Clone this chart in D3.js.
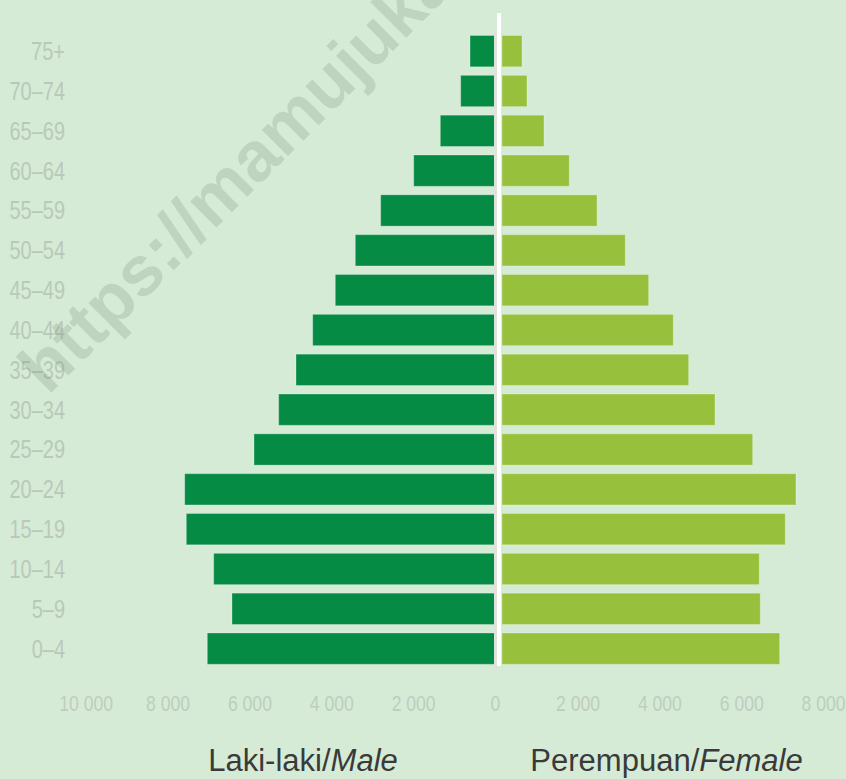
<!DOCTYPE html>
<html>
<head>
<meta charset="utf-8">
<script src="https://cdn.jsdelivr.net/npm/d3@7"></script>
<style>
    body { margin: 0; background: #d5ebd6; }
    svg { display: block; }
</style>
</head>
<body>
<svg id="chart" width="846" height="779"></svg>
<script>
// age groups, top to bottom
const ages = ["75+", "70–74", "65–69", "60–64", "55–59", "50–54", "45–49", "40–44",
    "35–39", "30–34", "25–29", "20–24", "15–19", "10–14", "5–9", "0–4"];

const male = [610, 838, 1336, 1986, 2793, 3413, 3902, 4454,
    4862, 5285, 5888, 7581, 7542, 6873, 6426, 7029];

const female = [489, 611, 1026, 1644, 2321, 3012, 3584, 4185,
    4561, 5204, 6125, 7183, 6922, 6286, 6311, 6785];

const maleTicks = [10000, 8000, 6000, 4000, 2000, 0];
const femaleTicks = [2000, 4000, 6000, 8000];

const sans = "'Liberation Sans', Arial, sans-serif";
const squeeze = 0.8; // condensed look for the small labels

let svg = d3.select("#chart");

svg.append("rect")
    .attr("width", 846)
    .attr("height", 779)
    .attr("fill", "#d5ebd6");

// scales
let xM = d3.scaleLinear().domain([0, 10000]).range([495, 495 - 409.3]);
let xF = d3.scaleLinear().domain([0, 8000]).range([495.7, 495.7 + 327.4]);
let gap = 6.3; // female bars sit right of the centre line

let y = d3.scaleBand()
    .domain(ages)
    .range([35.5, 664.3])
    .paddingInner(0.214)
    .paddingOuter(0);

let rows = ages.map((a, i) => ({ age: a, m: male[i], f: female[i] }));

// male bars
svg.append("g")
    .selectAll("rect")
    .data(rows)
    .enter()
    .append("rect")
    .attr("x", d => xM(d.m))
    .attr("y", d => y(d.age))
    .attr("width", d => xM(0) - xM(d.m))
    .attr("height", y.bandwidth())
    .attr("fill", "#058b44")
    .attr("stroke", "#ffffff")
    .attr("stroke-opacity", 0.28)
    .attr("stroke-width", 1);

// female bars
svg.append("g")
    .attr("transform", `translate(${gap},0)`)
    .selectAll("rect")
    .data(rows)
    .enter()
    .append("rect")
    .attr("x", xF(0))
    .attr("y", d => y(d.age))
    .attr("width", d => xF(d.f) - xF(0))
    .attr("height", y.bandwidth())
    .attr("fill", "#97c13d")
    .attr("stroke", "#ffffff")
    .attr("stroke-opacity", 0.28)
    .attr("stroke-width", 1);

// centre lines
svg.append("rect")
    .attr("x", 494)
    .attr("y", 32)
    .attr("width", 2.8)
    .attr("height", 637)
    .attr("fill", "#dde2dd");
svg.append("rect")
    .attr("x", 497)
    .attr("y", 13)
    .attr("width", 4)
    .attr("height", 653)
    .attr("fill", "#ffffff");

// age labels
svg.append("g")
    .selectAll("text")
    .data(ages)
    .enter()
    .append("text")
    .attr("transform", d => `translate(65,${y(d) + y.bandwidth() / 2}) scale(${squeeze},1)`)
    .attr("dy", "0.36em")
    .attr("text-anchor", "end")
    .style("font-family", sans)
    .style("font-size", "25px")
    .attr("fill", "#b9c9b9")
    .text(d => d);

// x axes
let fmt = d3.formatLocale({ decimal: ",", thousands: " ", grouping: [3], currency: ["", ""] }).format(",");

function styleAxis(g) {
    g.select(".domain").remove();
    g.selectAll("text")
        .attr("transform", `scale(${squeeze},1)`)
        .style("font-family", sans)
        .style("font-size", "22px")
        .attr("fill", "#bfcdbf");
}

svg.append("g")
    .attr("transform", "translate(0,695)")
    .call(d3.axisBottom(xM).tickValues(maleTicks).tickFormat(fmt).tickSize(0).tickPadding(0))
    .call(styleAxis);

svg.append("g")
    .attr("transform", "translate(0,695)")
    .call(d3.axisBottom(xF).tickValues(femaleTicks).tickFormat(fmt).tickSize(0).tickPadding(0))
    .call(styleAxis);

// sex labels
let maleLabel = svg.append("text")
    .attr("x", 303)
    .attr("y", 771)
    .attr("text-anchor", "middle")
    .style("font-family", sans)
    .style("font-size", "31px")
    .attr("fill", "#3a3a3a");
maleLabel.append("tspan").text("Laki-laki/");
maleLabel.append("tspan").style("font-style", "italic").text("Male");

let femaleLabel = svg.append("text")
    .attr("x", 666.5)
    .attr("y", 771)
    .attr("text-anchor", "middle")
    .style("font-family", sans)
    .style("font-size", "31px")
    .attr("fill", "#3a3a3a");
femaleLabel.append("tspan").text("Perempuan/");
femaleLabel.append("tspan").style("font-style", "italic").text("Female");

// watermark, on top of the labels
svg.append("text")
    .attr("transform", "translate(48,396) rotate(-45)")
    .style("font-family", sans)
    .style("font-size", "70px")
    .style("font-weight", "bold")
    .attr("fill", "#6f866f")
    .attr("fill-opacity", 0.22)
    .text("https://mamujukab.bps.go.id");
</script>
</body>
</html>
